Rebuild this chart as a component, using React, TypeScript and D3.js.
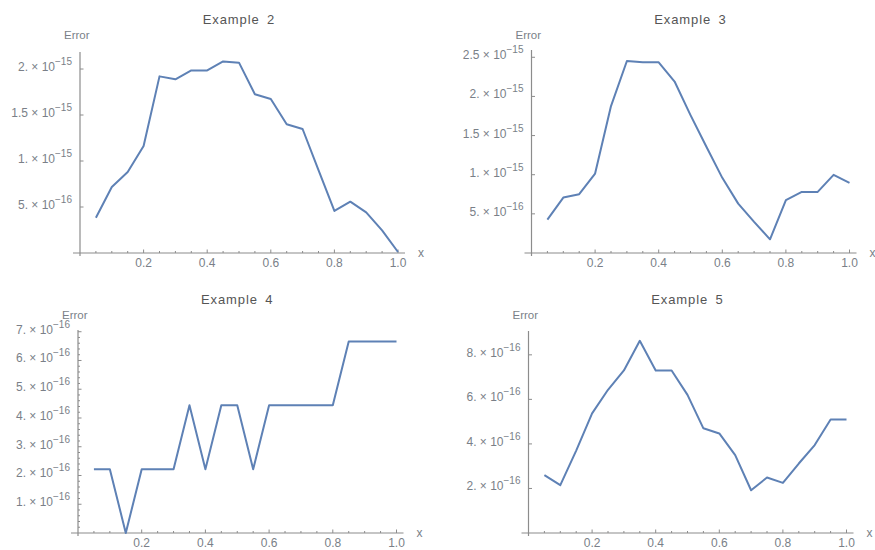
import React, { useEffect, useRef } from "react";
import * as d3 from "d3";

// sample points shared by all four examples
const xValues = [0.05, 0.1, 0.15, 0.2, 0.25, 0.3, 0.35, 0.4, 0.45, 0.5, 0.55, 0.6, 0.65, 0.7, 0.75, 0.8, 0.85, 0.9, 0.95, 1.0];

// errors, in units of 1e-16
const example2 = [3.84, 7.17, 8.8, 11.63, 19.2, 18.88, 19.85, 19.85, 20.83, 20.69, 17.25, 16.74, 14.0, 13.48, 9.0, 4.57, 5.58, 4.42, 2.46, 0.11];
const example3 = [4.27, 7.08, 7.51, 10.15, 18.77, 24.53, 24.36, 24.36, 21.9, 17.62, 13.57, 9.6, 6.31, 3.97, 1.75, 6.74, 7.8, 7.8, 9.98, 8.96];
const example4 = [2.22, 2.22, 0, 2.22, 2.22, 2.22, 4.44, 2.22, 4.44, 4.44, 2.22, 4.44, 4.44, 4.44, 4.44, 4.44, 6.66, 6.66, 6.66, 6.66];
const example5 = [2.6, 2.15, 3.7, 5.37, 6.43, 7.3, 8.63, 7.3, 7.3, 6.2, 4.7, 4.47, 3.5, 1.92, 2.49, 2.25, 3.12, 3.95, 5.1, 5.1];

const titles = ["Example 2", "Example 3", "Example 4", "Example 5"];

const xTicks = [0.2, 0.4, 0.6, 0.8, 1.0];
const xTickLabels = ["0.2", "0.4", "0.6", "0.8", "1.0"];
const xMinorTicks = [0.05, 0.1, 0.15, 0.25, 0.3, 0.35, 0.45, 0.5, 0.55, 0.65, 0.7, 0.75, 0.85, 0.9, 0.95];

// y ticks (units of 1e-16), mantissa and exponent
const yTicks2 = [5, 10, 15, 20];
const yMant2 = ["5.", "1.", "1.5", "2."];
const yExp2 = ["\u221216", "\u221215", "\u221215", "\u221215"];
const yTicks3 = [5, 10, 15, 20, 25];
const yMant3 = ["5.", "1.", "1.5", "2.", "2.5"];
const yExp3 = ["\u221216", "\u221215", "\u221215", "\u221215", "\u221215"];
const yTicks4 = [1, 2, 3, 4, 5, 6, 7];
const yMant4 = ["1.", "2.", "3.", "4.", "5.", "6.", "7."];
const yExp4 = ["\u221216", "\u221216", "\u221216", "\u221216", "\u221216", "\u221216", "\u221216"];
const yMinor4 = [0.2, 0.4, 0.6, 0.8, 1.2, 1.4, 1.6, 1.8, 2.2, 2.4, 2.6, 2.8, 3.2, 3.4, 3.6, 3.8, 4.2, 4.4, 4.6, 4.8, 5.2, 5.4, 5.6, 5.8, 6.2, 6.4, 6.6, 6.8];
const yTicks5 = [2, 4, 6, 8];
const yMant5 = ["2.", "4.", "6.", "8."];
const yExp5 = ["\u221216", "\u221216", "\u221216", "\u221216"];

const LINE = "#5e81b5";
const AXIS = "#8c8c8c";
const LABEL = "#7a7f88";
const FONT = "'Liberation Sans', Arial, sans-serif";

export default function App() {
  const ref = useRef<SVGSVGElement>(null);

  useEffect(() => {
    const svg = d3.select(ref.current);
    svg.selectAll("*").remove();

    // layout: origin, x=1 position, axis top and the y value at axis top
    const panels = [
      { data: example2, ticks: yTicks2, mant: yMant2, exp: yExp2, minor: [] as number[], ox: 80, x1: 398, oy: 253, top: 52, yTop: 21.85, row: 0 },
      { data: example3, ticks: yTicks3, mant: yMant3, exp: yExp3, minor: [] as number[], ox: 531.5, x1: 849.5, oy: 253, top: 50, yTop: 25.93, row: 0 },
      { data: example4, ticks: yTicks4, mant: yMant4, exp: yExp4, minor: yMinor4, ox: 78, x1: 396.5, oy: 533, top: 330, yTop: 7.06, row: 280 },
      { data: example5, ticks: yTicks5, mant: yMant5, exp: yExp5, minor: [] as number[], ox: 528.5, x1: 846.5, oy: 533, top: 331, yTop: 9.07, row: 280 },
    ];

    panels.forEach((p, i) => {
      const x = d3.scaleLinear().domain([0, 1]).range([p.ox, p.x1]);
      const y = d3.scaleLinear().domain([0, p.yTop]).range([p.oy, p.top]);
      const g = svg.append("g").attr("font-family", FONT);

      // title
      g.append("text")
        .attr("x", (p.ox - 7 + p.x1 + 7) / 2)
        .attr("y", p.row + 24)
        .attr("text-anchor", "middle")
        .attr("font-size", 13)
        .attr("letter-spacing", 0.9)
        .attr("word-spacing", 3)
        .attr("fill", "#555")
        .text(titles[i]);

      // axes
      g.append("line")
        .attr("x1", p.ox - 7).attr("x2", p.x1 + 7)
        .attr("y1", p.oy).attr("y2", p.oy)
        .attr("stroke", AXIS).attr("stroke-width", 1.2);
      g.append("line")
        .attr("x1", p.ox).attr("x2", p.ox)
        .attr("y1", p.top).attr("y2", p.oy + 3)
        .attr("stroke", AXIS).attr("stroke-width", 1.2);

      // x ticks
      g.selectAll("xminor")
        .data(xMinorTicks)
        .enter()
        .append("line")
        .attr("x1", (d) => x(d)).attr("x2", (d) => x(d))
        .attr("y1", p.oy).attr("y2", p.oy - 2)
        .attr("stroke", AXIS);
      g.selectAll("xmajor")
        .data(xTicks)
        .enter()
        .append("line")
        .attr("x1", (d) => x(d)).attr("x2", (d) => x(d))
        .attr("y1", p.oy).attr("y2", p.oy - 3.5)
        .attr("stroke", AXIS);
      g.selectAll("xlabel")
        .data(xTicks)
        .enter()
        .append("text")
        .attr("x", (d) => x(d))
        .attr("y", p.oy + 14)
        .attr("text-anchor", "middle")
        .attr("font-size", 12)
        .attr("fill", LABEL)
        .text((d, j) => xTickLabels[j]);

      // y ticks
      g.selectAll("yminor")
        .data(p.minor)
        .enter()
        .append("line")
        .attr("x1", p.ox).attr("x2", p.ox + 2)
        .attr("y1", (d) => y(d)).attr("y2", (d) => y(d))
        .attr("stroke", AXIS);
      g.selectAll("ymajor")
        .data(p.ticks)
        .enter()
        .append("line")
        .attr("x1", p.ox).attr("x2", p.ox + 3.5)
        .attr("y1", (d) => y(d)).attr("y2", (d) => y(d))
        .attr("stroke", AXIS);
      const lab = g.selectAll("ylabel")
        .data(p.ticks)
        .enter()
        .append("text")
        .attr("x", p.ox - 8)
        .attr("y", (d) => y(d) + 2)
        .attr("text-anchor", "end")
        .attr("font-size", 12)
        .attr("fill", LABEL);
      lab.append("tspan").text((d, j) => p.mant[j] + " \u00d7 10");
      lab.append("tspan")
        .attr("dy", -6)
        .attr("font-size", 10)
        .text((d, j) => p.exp[j]);

      // axis labels
      g.append("text")
        .attr("x", p.ox - 16)
        .attr("y", p.row + 39)
        .attr("font-size", 11.5)
        .attr("fill", LABEL)
        .text("Error");
      g.append("text")
        .attr("x", p.x1 + 20)
        .attr("y", p.oy + 4)
        .attr("font-size", 12)
        .attr("fill", LABEL)
        .text("x");

      // the line
      g.append("path")
        .datum(p.data)
        .attr("fill", "none")
        .attr("stroke", LINE)
        .attr("stroke-width", 2)
        .attr("stroke-linejoin", "round")
        .attr(
          "d",
          d3
            .line<number>()
            .x((d, j) => x(xValues[j]))
            .y((d) => y(d))
        );
    });
  }, []);

  return (
    <div>
      <svg
        ref={ref}
        width={875}
        height={550}
        style={{ position: "fixed", top: 0, left: 0, display: "block", background: "#fff" }}
      ></svg>
    </div>
  );
}
